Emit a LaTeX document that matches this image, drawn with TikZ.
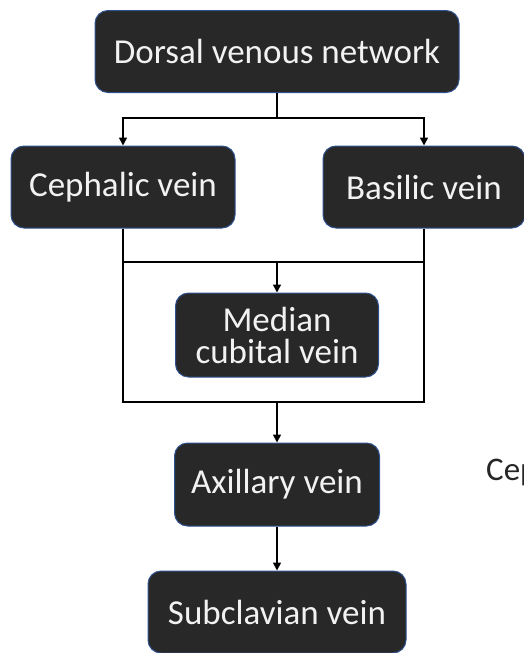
\documentclass[tikz,border=0pt]{standalone}
\usepackage{fontspec}
\setmainfont{Carlito}
\usetikzlibrary{arrows.meta,positioning}
\definecolor{veinfill}{RGB}{40,40,40}
\definecolor{veinedge}{RGB}{47,82,143}
\definecolor{veintext}{RGB}{242,242,242}
\tikzset{
    veinbox/.style={
        rectangle,
        rounded corners=13pt,
        draw=veinedge,
        fill=veinfill,
        line width=1pt,
        text=veintext,
        minimum height=82pt,
        align=center,
        inner sep=0pt,
        font=\fontsize{35}{32}\selectfont
    },
    link/.style={line width=1.6pt, draw=black},
    flow/.style={link, -{Triangle[length=8pt,width=8pt]}},
}

\begin{document}
\begin{tikzpicture}[x=1pt,y=-1pt]
    \useasboundingbox (0,0) rectangle (523,653);
    \node[veinbox, minimum width=364pt] (dorsal) at (277,51.5) {Dorsal venous network};
    \node[veinbox, minimum width=224pt] (cephalic) at (123,187) {Cephalic vein};
    \node[veinbox, minimum width=202pt] (basilic) at (424,187) {Basilic vein};
    \node[veinbox, minimum width=203pt, minimum height=84pt] (median) at (277,335) {Median\\cubital vein};
    \node[veinbox, minimum width=205pt, minimum height=83pt] (axillary) at (277,484.5) {Axillary vein};
    \node[veinbox, minimum width=258pt] (subclavian) at (277,612) {Subclavian vein};
    \node[anchor=west, inner sep=0pt, text=black!85, font=\fontsize{33}{30}\selectfont] (cep) at (486,472) {Cep};

    \coordinate (split) at (277,118);
    \coordinate (merge) at (277,262);
    \coordinate (wrap) at (277,402);

    \draw[link] (dorsal) -- (split);
    \draw[flow] (split) -| (cephalic);
    \draw[flow] (split) -| (basilic);
    \draw[link] (cephalic) -- (cephalic |- wrap) -- (basilic |- wrap) -- (basilic);
    \draw[link] (cephalic |- merge) -- (basilic |- merge);
    \draw[flow] (merge) -- (median);
    \draw[flow] (wrap) -- (axillary);
    \draw[flow] (axillary) -- (subclavian);
\end{tikzpicture}
\end{document}
